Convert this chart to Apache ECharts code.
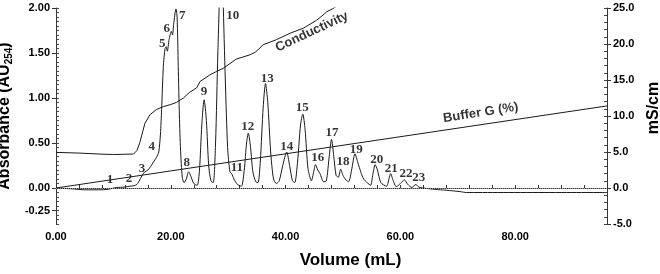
<!DOCTYPE html>
<html lang="en">
<head>
  <meta charset="UTF-8">
  <title>Chromatogram</title>
  <style>
    html, body { margin: 0; padding: 0; background: #fff; }
  </style>
</head>
<body>
<div id="main" style="width:660px; height:274px;"></div>
<script type="text/javascript" src="https://cdn.jsdelivr.net/npm/echarts@6.0.0/dist/echarts.min.js"></script>
<script>
  // absorbance trace, [volume mL, AU254]
  var absorbance = [
    [0, 0], [3, -0.01], [5, -0.02], [8, -0.02], [9.4, -0.01], [10.5, 0.005], [12, 0.01], [12.8, 0.02],
    [13.6, 0.025], [14.1, 0.04], [14.6, 0.09], [15.1, 0.15], [15.5, 0.18], [16.0, 0.2], [16.5, 0.24],
    [17.0, 0.29], [17.5, 0.34], [17.9, 0.4], [18.2, 0.6], [18.4, 0.87], [18.7, 1.35], [19.0, 1.55],
    [19.2, 1.57], [19.4, 1.52], [19.7, 1.65], [20.1, 1.74], [20.3, 1.70], [20.5, 1.82], [20.9, 1.99],
    [21.1, 1.9], [21.3, 1.35], [21.5, 0.8], [21.7, 0.42], [22.0, 0.12], [22.3, 0.06], [22.7, 0.10],
    [23.1, 0.18], [23.5, 0.13], [24.0, 0.05], [24.6, 0.03], [25.0, 0.2], [25.4, 0.7], [25.8, 0.98],
    [26.2, 0.75], [26.6, 0.25], [27.0, 0.08], [27.4, 0.06], [27.8, 0.5], [28.2, 1.5], [28.8, 2.6],
    [29.1, 2.1], [29.5, 1.2], [29.9, 0.45], [30.3, 0.18], [30.6, 0.16], [31.0, 0.1], [31.6, 0.04],
    [32.3, 0.02], [32.8, 0.2], [33.2, 0.5], [33.5, 0.61], [33.9, 0.45], [34.3, 0.18], [34.8, 0.07],
    [35.2, 0.06], [35.6, 0.3], [36.1, 0.9], [36.5, 1.16], [36.9, 0.95], [37.4, 0.4], [37.9, 0.1],
    [38.4, 0.05], [38.9, 0.08], [39.5, 0.25], [40.2, 0.40], [40.7, 0.25], [41.2, 0.08], [41.6, 0.06],
    [42.1, 0.3], [42.6, 0.7], [43.0, 0.82], [43.4, 0.65], [43.9, 0.22], [44.5, 0.08], [44.9, 0.18],
    [45.2, 0.26], [45.6, 0.2], [46.0, 0.16], [46.6, 0.07], [47.1, 0.08], [47.6, 0.35], [48.0, 0.54],
    [48.4, 0.35], [48.8, 0.14], [49.2, 0.12], [49.6, 0.21], [50.0, 0.14], [50.5, 0.09], [51.0, 0.07],
    [51.5, 0.2], [52.1, 0.38], [52.6, 0.28], [53.1, 0.18], [53.6, 0.1], [54.2, 0.06], [54.8, 0.03],
    [55.2, 0.15], [55.6, 0.26], [56.0, 0.2], [56.6, 0.06], [57.6, 0.02], [58.0, 0.1], [58.3, 0.16],
    [58.7, 0.09], [59.3, 0.015], [60.0, 0.05], [60.7, 0.09], [61.3, 0.04], [62.0, 0.005], [62.7, 0.04],
    [63.2, 0.01], [64, 0], [66, -0.015], [68, -0.025], [70.4, -0.04], [71.5, -0.05], [96, -0.05]
  ];

  // conductivity, [volume mL, mS/cm]
  var conductivity = [
    [0, 4.95], [4, 4.85], [8, 4.7], [10, 4.65], [13.5, 4.72], [14.1, 5.2], [14.6, 6.3], [15.1, 7.8],
    [15.5, 9.0], [16.4, 10.2], [17.5, 10.9], [18.7, 11.3], [20, 11.6], [21, 11.9], [22.2, 12.5],
    [23.3, 13.3], [24.5, 13.9], [25.1, 14.8], [26.8, 15.7], [28, 16.2], [29.1, 16.6], [31.4, 17.9],
    [32.6, 18.2], [33.8, 18.5], [34.8, 18.9], [36.1, 19.9], [38.4, 20.6], [40.8, 21.5], [43.1, 22.2],
    [45.4, 23.3], [46.5, 24.0], [47.2, 24.5], [48.2, 24.9], [49.2, 25.4]
  ];

  // buffer G gradient (%)
  var bufferG = [[0, 0], [96, 11.4]];

  // peak numbers and where they are written [mL, AU]
  var peakNames = ['1', '2', '3', '4', '5', '6', '7', '8', '9', '10', '11', '12',
                   '13', '14', '15', '16', '17', '18', '19', '20', '21', '22', '23'];
  var peakPos = [
    [9.4, 0.09], [12.7, 0.10], [15.0, 0.22], [16.7, 0.46], [18.5, 1.60], [19.3, 1.77], [22.0, 1.92],
    [22.8, 0.28], [25.8, 1.07], [30.8, 1.92], [31.5, 0.23], [33.4, 0.68], [36.8, 1.21], [40.2, 0.46],
    [42.9, 0.89], [45.6, 0.34], [48.1, 0.62], [50.0, 0.29], [52.3, 0.43], [55.9, 0.32], [58.4, 0.22],
    [61.0, 0.16], [63.2, 0.11]
  ];

  var leftLabels = [-0.25, 0, 0.5, 1, 1.5, 2];

  var chart = echarts.init(document.getElementById('main'));
  var ink = '#1a1a1a';
  var tickFont = { color: '#000', fontSize: 11, fontWeight: 'bold', fontFamily: 'Liberation Sans, Arial, sans-serif' };

  var peakData = peakNames.map(function (n, i) {
    return { name: n, value: peakPos[i] };
  });

  var option = {
    animation: false,
    grid: { left: 56, right: 53, top: 8, bottom: 50, outerBoundsMode: 'none' },
    xAxis: {
      type: 'value', min: 0, max: 96, interval: 4,
      name: 'Volume (mL)', nameLocation: 'middle', nameGap: 28,
      nameTextStyle: { fontSize: 17, fontWeight: 'bold', color: '#000', fontFamily: 'Liberation Sans, Arial, sans-serif', padding: [0, 0, 0, 38] },
      axisLine: { lineStyle: { color: '#333' } },
      axisTick: { inside: true, length: 3, lineStyle: { color: '#333' } },
      axisLabel: Object.assign({ margin: 7, formatter: function (v) { return v % 20 === 0 ? v.toFixed(2) : ''; } }, tickFont),
      splitLine: { show: false }
    },
    yAxis: [
      {
        type: 'value', position: 'left', min: -0.4, max: 2, interval: 0.05,
        name: '{a|Absorbance (AU}{s|254}{a|)}', nameLocation: 'middle', nameGap: 32, nameRotate: 90,
        nameTextStyle: {
          color: '#000',
          rich: {
            a: { fontSize: 16, fontWeight: 'bold', fontFamily: 'Liberation Sans, Arial, sans-serif', color: '#000', lineHeight: 18 },
            s: { fontSize: 10, fontWeight: 'bold', fontFamily: 'Liberation Sans, Arial, sans-serif', color: '#000', lineHeight: 18, verticalAlign: 'bottom', padding: [6, 0, 0, 0] }
          }
        },
        axisLine: { show: true, lineStyle: { color: '#333' } },
        axisTick: { show: true, customValues: leftLabels, inside: false, length: 4, lineStyle: { color: '#333' } },
        axisLabel: Object.assign({ customValues: leftLabels, margin: 6, formatter: function (v) { return v.toFixed(2); } }, tickFont),
        splitLine: { show: false }
      },
      {
        type: 'value', position: 'left', offset: 0, min: -0.4, max: 2, interval: 0.05,
        axisLine: { show: false },
        axisTick: { show: true, inside: true, length: 3, lineStyle: { color: '#444' } },
        axisLabel: { show: false },
        splitLine: { show: false }
      },
      {
        type: 'value', position: 'right', min: -5, max: 25, interval: 5,
        name: 'mS/cm', nameLocation: 'middle', nameGap: 34, nameRotate: 90,
        nameTextStyle: { fontSize: 16, fontWeight: 'bold', color: '#000', fontFamily: 'Liberation Sans, Arial, sans-serif', padding: [0, 0, 0, 16] },
        axisLine: { show: true, lineStyle: { color: '#333' } },
        axisTick: { show: true, inside: false, length: 4, lineStyle: { color: '#333' } },
        axisLabel: Object.assign({ margin: 6, formatter: function (v) { return v.toFixed(1); } }, tickFont),
        splitLine: { show: false }
      },
      {
        type: 'value', position: 'right', offset: 0, min: -5, max: 25, interval: 1,
        axisLine: { show: false },
        axisTick: { show: true, inside: true, length: 3, lineStyle: { color: '#444' } },
        axisLabel: { show: false },
        splitLine: { show: false }
      }
    ],
    series: [
      {
        name: 'Absorbance', type: 'line', xAxisIndex: 0, yAxisIndex: 0,
        data: absorbance, showSymbol: false, smooth: 0.25, clip: true,
        lineStyle: { color: ink, width: 1 },
        markLine: {
          silent: true, symbol: 'none', label: { show: false },
          lineStyle: { color: '#9a9a9a', type: 'dotted', width: 1 },
          data: [{ yAxis: 0 }]
        }
      },
      {
        name: 'Conductivity', type: 'line', yAxisIndex: 2,
        data: conductivity, showSymbol: false, clip: true,
        lineStyle: { color: ink, width: 1 }
      },
      {
        name: 'Buffer G (%)', type: 'line', yAxisIndex: 2,
        data: bufferG, showSymbol: false,
        lineStyle: { color: ink, width: 1 }
      },
      {
        name: 'Peaks', type: 'scatter', yAxisIndex: 0, symbolSize: 0, silent: true,
        data: peakData,
        label: {
          show: true, position: 'inside', formatter: '{b}',
          color: '#000', fontSize: 13, fontWeight: 'bold', fontFamily: 'Liberation Serif, Times New Roman, serif'
        }
      },
      {
        name: 'Trace labels', type: 'scatter', yAxisIndex: 2, symbolSize: 0, silent: true,
        data: [
          { name: 'Conductivity', value: [44.6, 21.7], label: { rotate: 25 } },
          { name: 'Buffer G (%)', value: [74.0, 10.45], label: { rotate: 9 } }
        ],
        label: {
          show: true, position: 'inside', formatter: '{b}',
          color: '#000', fontSize: 13, fontWeight: 'bold', fontFamily: 'Liberation Sans, Arial, sans-serif'
        }
      }
    ]
  };

  chart.setOption(option);
</script>
</body>
</html>
